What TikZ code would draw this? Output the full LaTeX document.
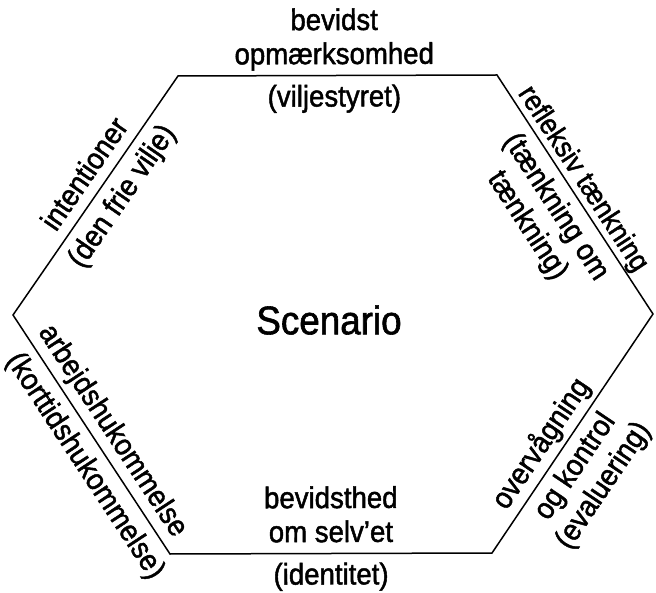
\documentclass[tikz,border=0pt]{standalone}
\usepackage{fontspec}
\setmainfont{Liberation Sans}[FakeStretch=0.92,FakeBold=1.5]
\usetikzlibrary{positioning}

\begin{document}
\begin{tikzpicture}[x=1pt,y=-1pt]
	\tikzstyle{edge}=[line width=1.5pt,line join=miter]
	\tikzstyle{toptext}=[sloped,above=4pt,align=center,inner sep=1pt,font=\fontsize{30}{34}\selectfont]
	\tikzstyle{bottext}=[sloped,below=6pt,align=center,inner sep=1pt,font=\fontsize{30}{34}\selectfont]
	\tikzstyle{title}=[font=\fontsize{40}{46}\selectfont]
	
	\useasboundingbox (0,0) rectangle (656,593);
	
	% Hexagon corners
	\coordinate (tl) at (178,76);
	\coordinate (tr) at (497,75);
	\coordinate (r)  at (653,314);
	\coordinate (br) at (492,553);
	\coordinate (bl) at (170,554);
	\coordinate (l)  at (13,315);
	
	\draw [edge] (tl) -- (tr) -- (r) -- (br) -- (bl) -- (l) -- cycle;
	
	\node [title] (scen) at (329,320) {Scenario};
	
	% top side
	\path (tl) -- (tr)
		node [toptext,pos=.49] (opm) {bevidst\\opmærksomhed\vphantom{p}}
		node [bottext,pos=.49] (vil) {\strut(viljestyret)};
	
	% upper left side
	\path (l) -- (tl)
		node [toptext,pos=.54] (int) {intentioner\vphantom{p}}
		node [bottext,pos=.55] (fri) {\strut(den frie vilje)};
	
	% upper right side
	\path (tr) -- (r)
		node [toptext,pos=.47,above=0pt,font=\fontsize{29}{34}\selectfont] (ref) {refleksiv tænkning\vphantom{p}}
		node [bottext,pos=.5] (tom) {\strut(tænkning om\\tænkning)};
	
	% lower right side
	\path (br) -- (r)
		node [toptext,pos=.41] (ovv) {overvågning\vphantom{p}}
		node [bottext,pos=.41,below=4pt] (kon) {\strut og kontrol\\(evaluering)};
	
	% bottom side
	\path (bl) -- (br)
		node [toptext,pos=.5] (sel) {bevidsthed\\om selv'et\vphantom{p}}
		node [bottext,pos=.5] (ide) {\strut(identitet)};
	
	% lower left side
	\path (l) -- (bl)
		node [toptext,pos=.53] (arb) {arbejdshukommelse\vphantom{p}}
		node [bottext,pos=.58] (kor) {\strut(korttidshukommelse)};
\end{tikzpicture}
\end{document}
